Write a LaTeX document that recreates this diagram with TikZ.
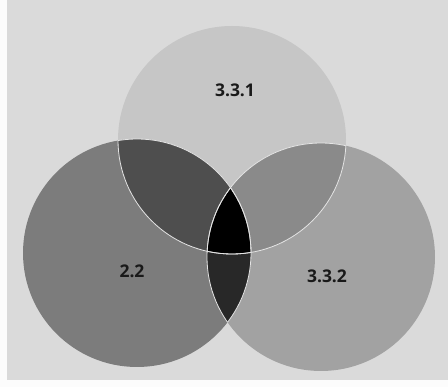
\documentclass[tikz,border=0pt]{standalone}
\usepackage{fontspec}
\setmainfont{Open Sans}
\definecolor{bg}{HTML}{DADADA}
\definecolor{ctop}{HTML}{C6C6C6}
\definecolor{cleft}{HTML}{7C7C7C}
\definecolor{cright}{HTML}{A2A2A2}
\definecolor{ctl}{HTML}{4E4E4E}
\definecolor{ctr}{HTML}{8A8A8A}
\definecolor{clr}{HTML}{282828}
\definecolor{edge}{HTML}{E4E4E4}
\begin{document}
\begin{tikzpicture}[x=1pt,y=-1pt,
  lab/.style={font=\bfseries\fontsize{17.5}{17.5}\selectfont, text=black!90},
  rim/.style={draw=edge, line width=0.8pt}]
\fill[bg] (0,0) rectangle (448,387);
\fill[white!92!bg] (0,0) rectangle (7,387);
\fill[white!92!bg] (0,380) rectangle (448,387);
\useasboundingbox (0,0) rectangle (448,387);
\coordinate (T) at (232,140);
\coordinate (L) at (137,253);
\coordinate (R) at (321,257);
\def\rr{114}
% base fills
\fill[ctop] (T) circle (\rr);
\fill[cleft] (L) circle (\rr);
\fill[cright] (R) circle (\rr);
% pairwise intersections
\begin{scope}
  \clip (T) circle (\rr);
  \fill[ctl] (L) circle (\rr);
  \fill[ctr] (R) circle (\rr);
\end{scope}
\begin{scope}
  \clip (L) circle (\rr);
  \fill[clr] (R) circle (\rr);
\end{scope}
\begin{scope}
  \clip (T) circle (\rr);
  \clip (L) circle (\rr);
  \fill[black] (R) circle (\rr);
\end{scope}
% outlines
\begin{scope}
  \clip (T) circle (\rr);
  \draw[rim] (L) circle (\rr);
  \draw[rim] (R) circle (\rr);
\end{scope}
\begin{scope}
  \clip (L) circle (\rr);
  \draw[rim] (T) circle (\rr);
  \draw[rim] (R) circle (\rr);
\end{scope}
\begin{scope}
  \clip (R) circle (\rr);
  \draw[rim] (T) circle (\rr);
  \draw[rim] (L) circle (\rr);
\end{scope}
\node[lab] (t1) at (235,90) {3.3.1};
\node[lab] (t2) at (132,271) {2.2};
\node[lab] (t3) at (327,276) {3.3.2};
\end{tikzpicture}
\end{document}
